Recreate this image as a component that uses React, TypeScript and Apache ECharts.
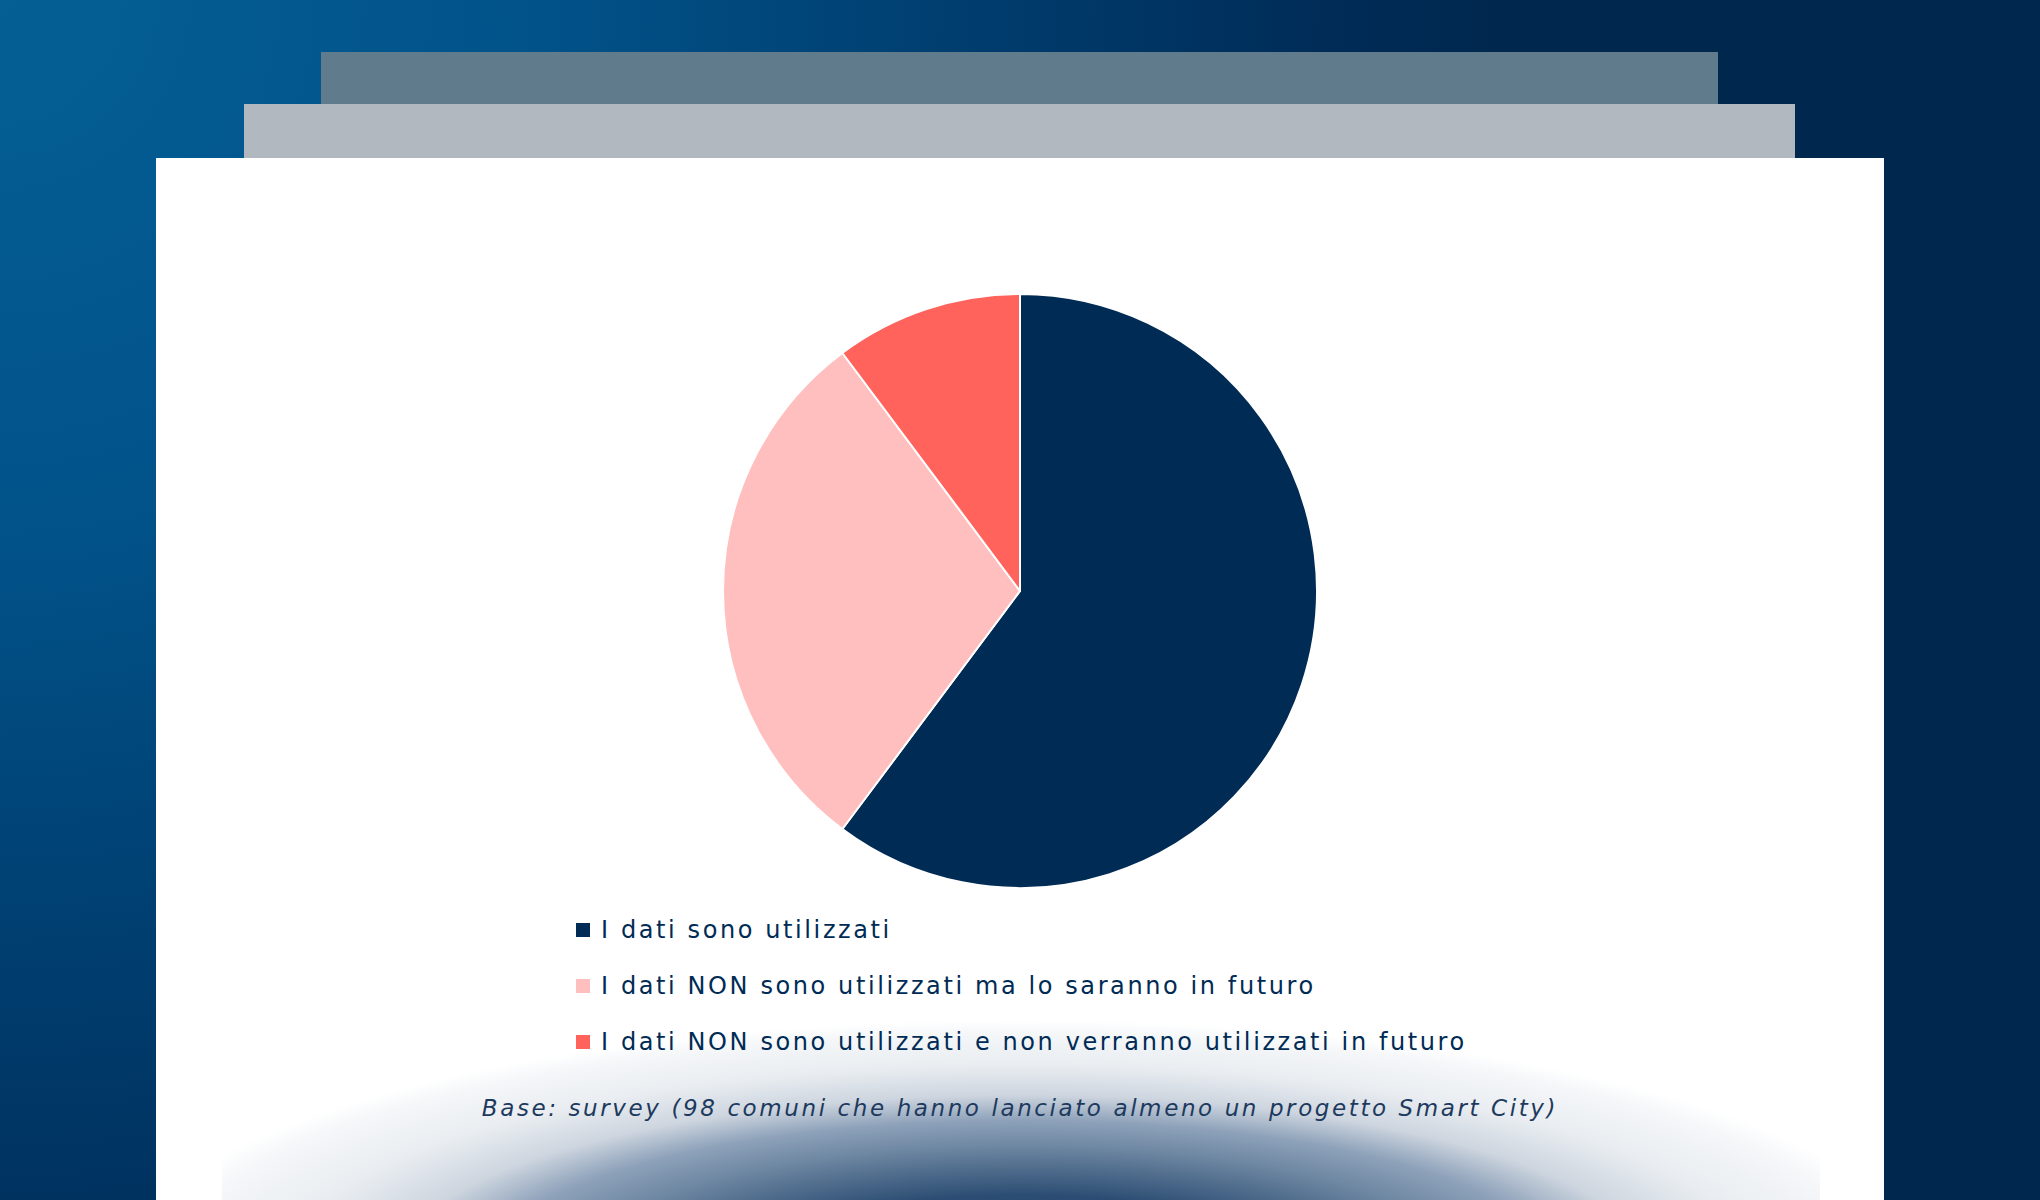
import React, { useEffect, useRef } from "react";
import * as echarts from "echarts";

const categories = [
  "I dati sono utilizzati",
  "I dati NON sono utilizzati ma lo saranno in futuro",
  "I dati NON sono utilizzati e non verranno utilizzati in futuro",
];
const values = [59, 29, 10];
const colors = ["#002b55", "#ffbfbe", "#ff635c"];
const footnote = "Base: survey (98 comuni che hanno lanciato almeno un progetto Smart City)";

const FONT = "'DejaVu Sans', sans-serif";

export default function App() {
  const ref = useRef<HTMLDivElement>(null);
  useEffect(() => {
    document.body.style.margin = "0";
    const chart = echarts.init(ref.current!, null, { renderer: "svg" });
    chart.setOption({
      animation: false,
      graphic: [
        {
          type: "rect",
          z: -10,
          silent: true,
          shape: { x: 0, y: 0, width: 2040, height: 1200 },
          style: {
            fill: {
              type: "radial",
              x: 0,
              y: 0,
              r: 1500,
              global: true,
              colorStops: [
                { offset: 0, color: "#045f95" },
                { offset: 0.35, color: "#01538a" },
                { offset: 0.65, color: "#003d6e" },
                { offset: 0.9, color: "#002b56" },
                { offset: 1, color: "#00284f" },
              ],
            },
          },
        },
        {
          type: "rect",
          z: -9,
          silent: true,
          shape: { x: 321, y: 52, width: 1397, height: 60 },
          style: { fill: "#5f7b8c" },
        },
        {
          type: "rect",
          z: -8,
          silent: true,
          shape: { x: 244, y: 104, width: 1551, height: 60 },
          style: { fill: "#b1b8bf" },
        },
        {
          type: "rect",
          z: -7,
          silent: true,
          shape: { x: 156, y: 158, width: 1728, height: 1042 },
          style: { fill: "#ffffff" },
        },
        {
          type: "rect",
          z: -6,
          silent: true,
          shape: { x: 222, y: 756, width: 1598, height: 444 },
          style: {
            fill: {
              type: "radial",
              x: 0.5,
              y: 1.158,
              r: 0.5632,
              colorStops: [
                { offset: 0, color: "#1f416a" },
                { offset: 0.3, color: "#2c4d73" },
                { offset: 0.5, color: "#6f88a3" },
                { offset: 0.6, color: "#8ea2ba" },
                { offset: 0.7, color: "#cdd5df" },
                { offset: 0.82, color: "#e9edf1" },
                { offset: 0.95, color: "#f5f7f9" },
                { offset: 1, color: "#ffffff" },
              ],
            },
          },
        },
        {
          type: "text",
          z: 5,
          x: 1020,
          y: 1108,
          style: {
            text: footnote,
            fill: "#1d3a5e",
            font: `italic normal 23px ${FONT}`,
            textAlign: "center",
            textVerticalAlign: "middle",
          },
        },
      ],
      legend: {
        orient: "vertical",
        left: 574,
        top: 918,
        padding: 0,
        itemWidth: 16,
        itemHeight: 16,
        itemGap: 32,
        icon: "rect",
        data: categories,
        textStyle: {
          color: "#002b55",
          fontSize: 24,
          fontWeight: "normal",
          fontFamily: FONT,
          lineHeight: 24,
          padding: [0, 0, 0, 5],
        },
        selectedMode: false,
      },
      series: [
        {
          type: "pie",
          center: [1020, 591],
          radius: [0, 297],
          startAngle: 90,
          clockwise: true,
          label: { show: false },
          labelLine: { show: false },
          emphasis: { disabled: true },
          itemStyle: { borderColor: "#ffffff", borderWidth: 2 },
          data: categories.map((name, i) => ({
            name,
            value: values[i],
            itemStyle: { color: colors[i] },
          })),
        },
      ],
    });
    return () => chart.dispose();
  }, []);
  return (
    <div
      ref={ref}
      style={{
        position: "absolute",
        left: 0,
        top: 0,
        width: 2040,
        height: 1200,
        letterSpacing: "2.6px",
      }}
    />
  );
}
